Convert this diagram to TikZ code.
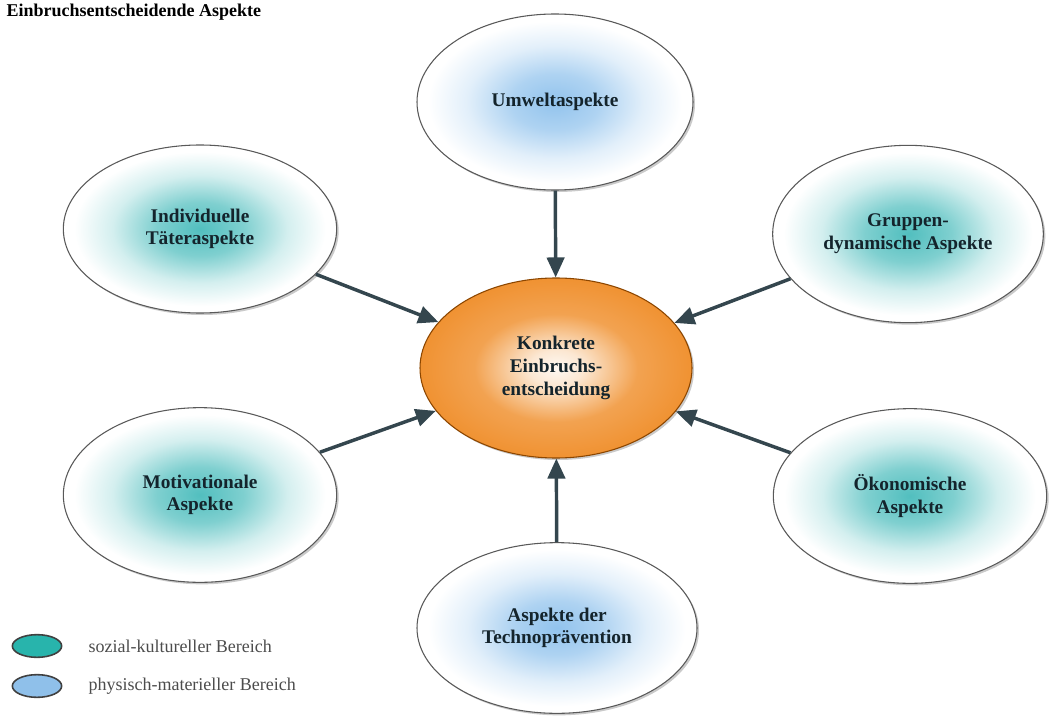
\documentclass[tikz,border=0pt]{standalone}
\usepackage{fontspec}
\setmainfont{Liberation Serif}
\usepackage{tikz}
\usetikzlibrary{arrows.meta,positioning,shapes.geometric,shadows}

\definecolor{arrowgray}{RGB}{52,70,78}
\definecolor{labelink}{RGB}{20,36,44}
\definecolor{tealcore}{RGB}{58,182,182}
\definecolor{bluecore}{RGB}{140,192,236}
\definecolor{orangerim}{RGB}{240,146,50}
\definecolor{legteal}{RGB}{40,180,172}
\definecolor{legblue}{RGB}{143,192,234}

\pgfdeclareradialshading{tealglow}{\pgfpoint{0bp}{0bp}}{color(0bp)=(tealcore!88!white); color(8bp)=(tealcore!65!white); color(16bp)=(tealcore!22!white); color(23bp)=(white); color(25bp)=(white); color(50bp)=(white)}
\pgfdeclareradialshading{blueglow}{\pgfpoint{0bp}{0bp}}{color(0bp)=(bluecore!95!white); color(8bp)=(bluecore!70!white); color(16bp)=(bluecore!25!white); color(23bp)=(white); color(25bp)=(white); color(50bp)=(white)}
\pgfdeclareradialshading{orangeglow}{\pgfpoint{0bp}{0bp}}{color(0bp)=(orangerim!6!white); color(5bp)=(orangerim!22!white); color(15bp)=(orangerim!85!white); color(25bp)=(orangerim); color(50bp)=(orangerim)}

\begin{document}
\begin{tikzpicture}[
    x=0.75pt, y=-0.75pt,
    >=Stealth,
    aspect/.style={ellipse, draw=black!65, line width=0.8pt,
      minimum width=205pt, minimum height=131pt, align=center,
      font=\fontsize{14.5}{17}\selectfont\bfseries, text=labelink,
      drop shadow={shadow xshift=1.5pt, shadow yshift=-1.5pt, opacity=0.35, fill=black!60}},
    social/.style={aspect, shading=tealglow},
    physical/.style={aspect, shading=blueglow},
    decision/.style={aspect, shading=orangeglow, draw=orange!55!black},
    flow/.style={-{Triangle[length=15pt, width=13pt]}, line width=2.6pt, draw=arrowgray},
    legdot/.style={ellipse, draw=black!75, line width=1.2pt,
      minimum width=37pt, minimum height=17pt},
    legtext/.style={font=\fontsize{13.5}{16}\selectfont, text=black!70},
  ]
  \useasboundingbox (0,0) rectangle (1049,717);

  % Title
  \node[anchor=west, font=\fontsize{13.5}{16}\selectfont\bfseries] (title) at (2,12) {Einbruchsentscheidende Aspekte};

  % Center
  \node[decision, minimum width=204pt, minimum height=135pt] (entscheidung) at (556,368) {Konkrete\\Einbruchs-\\entscheidung};

  % Aspects
  \node[physical, minimum width=207pt, minimum height=132pt] (umwelt) at (555,102) {Umweltaspekte};
  \node[social, minimum height=126pt] (taeter) at (200,229) {Individuelle\\Täteraspekte};
  \node[social, minimum width=203pt, minimum height=133pt] (gruppe) at (908,234) {Gruppen-\\dynamische Aspekte};
  \node[social] (motiv) at (200,495) {Motivationale\\Aspekte};
  \node[social] (oekonom) at (910,496) {Ökonomische\\Aspekte};
  \node[physical, minimum width=210pt, minimum height=128pt] (techno) at (557,628) {Aspekte der\\Technoprävention};

  % Edges
  \draw[flow] (umwelt) -- (entscheidung);
  \draw[flow] (taeter) -- (entscheidung);
  \draw[flow] (gruppe) -- (entscheidung);
  \draw[flow] (motiv) -- (entscheidung);
  \draw[flow] (oekonom) -- (entscheidung);
  \draw[flow] (techno) -- (entscheidung);

  % Legend
  \node[legdot, fill=legteal] (socleg) at (37,646) {};
  \node[legdot, fill=legblue] (physleg) at (37,686) {};
  \node[legtext, right=16pt of socleg] (soctext) {sozial-kultureller Bereich};
  \node[legtext, right=16pt of physleg] (physext) {physisch-materieller Bereich};
\end{tikzpicture}
\end{document}
